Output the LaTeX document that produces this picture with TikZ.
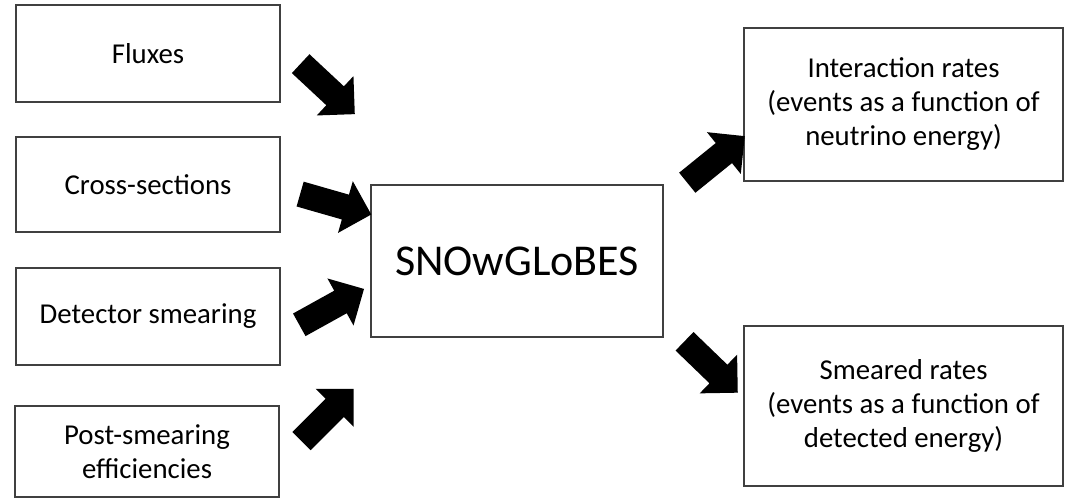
\documentclass[tikz,border=0pt]{standalone}
\usepackage{fontspec}
\setmainfont{Carlito}
\usetikzlibrary{shapes.arrows}

\begin{document}
\begin{tikzpicture}
        [
            x = 0.5pt, y = -0.5pt,
            box/.style = {draw = black!75, line width = 0.9pt, align = center, inner sep = 0pt,
                          font = \fontsize{14.4}{17}\selectfont},
            inbox/.style = {box, minimum width = 132pt},
            outbox/.style = {box, minimum width = 159.5pt},
            bigarrow/.style = {single arrow, fill = black, inner xsep = 0pt, inner ysep = 6.25pt,
                               minimum height = 37pt, single arrow head extend = 7pt,
                               single arrow tip angle = 90, single arrow head indent = 0pt}
        ]

        \useasboundingbox (0,0) rectangle (1069,502);

        % inputs
        \node[inbox, minimum height = 48.5pt] (fluxes) at (148,53.5) {Fluxes};
        \node[inbox, minimum height = 47.5pt] (xsec) at (148,184.5) {Cross-sections};
        \node[inbox, minimum height = 48.5pt] (smear) at (148,316.5) {Detector smearing};
        \node[inbox, minimum height = 45.5pt] (eff) at (147,451.5) {Post-smearing\\efficiencies};

        % the program
        \node[box, minimum width = 146pt, minimum height = 76pt, font = \fontsize{22}{26}\selectfont]
            (snow) at (517,261) {SNOwGLoBES};

        % outputs
        \node[outbox, minimum height = 76.5pt] (irates) at (903.5,104.5)
            {Interaction rates\\(events as a function of\\neutrino energy)};
        \node[outbox, minimum height = 80pt] (srates) at (903.5,406)
            {Smeared rates\\(events as a function of\\detected energy)};

        % block arrows
        \node[bigarrow, rotate = -43] (afluxes) at (323,84.5) {};
        \node[bigarrow, rotate = -16] (axsec) at (329.5,202.5) {};
        \node[bigarrow, rotate = 29] (asmear) at (326,310) {};
        \node[bigarrow, rotate = 45] (aeff) at (323,419.5) {};
        \node[bigarrow, rotate = 39] (airates) at (711,163.5) {};
        \node[bigarrow, rotate = -44] (asrates) at (706.5,362.5) {};
\end{tikzpicture}
\end{document}
